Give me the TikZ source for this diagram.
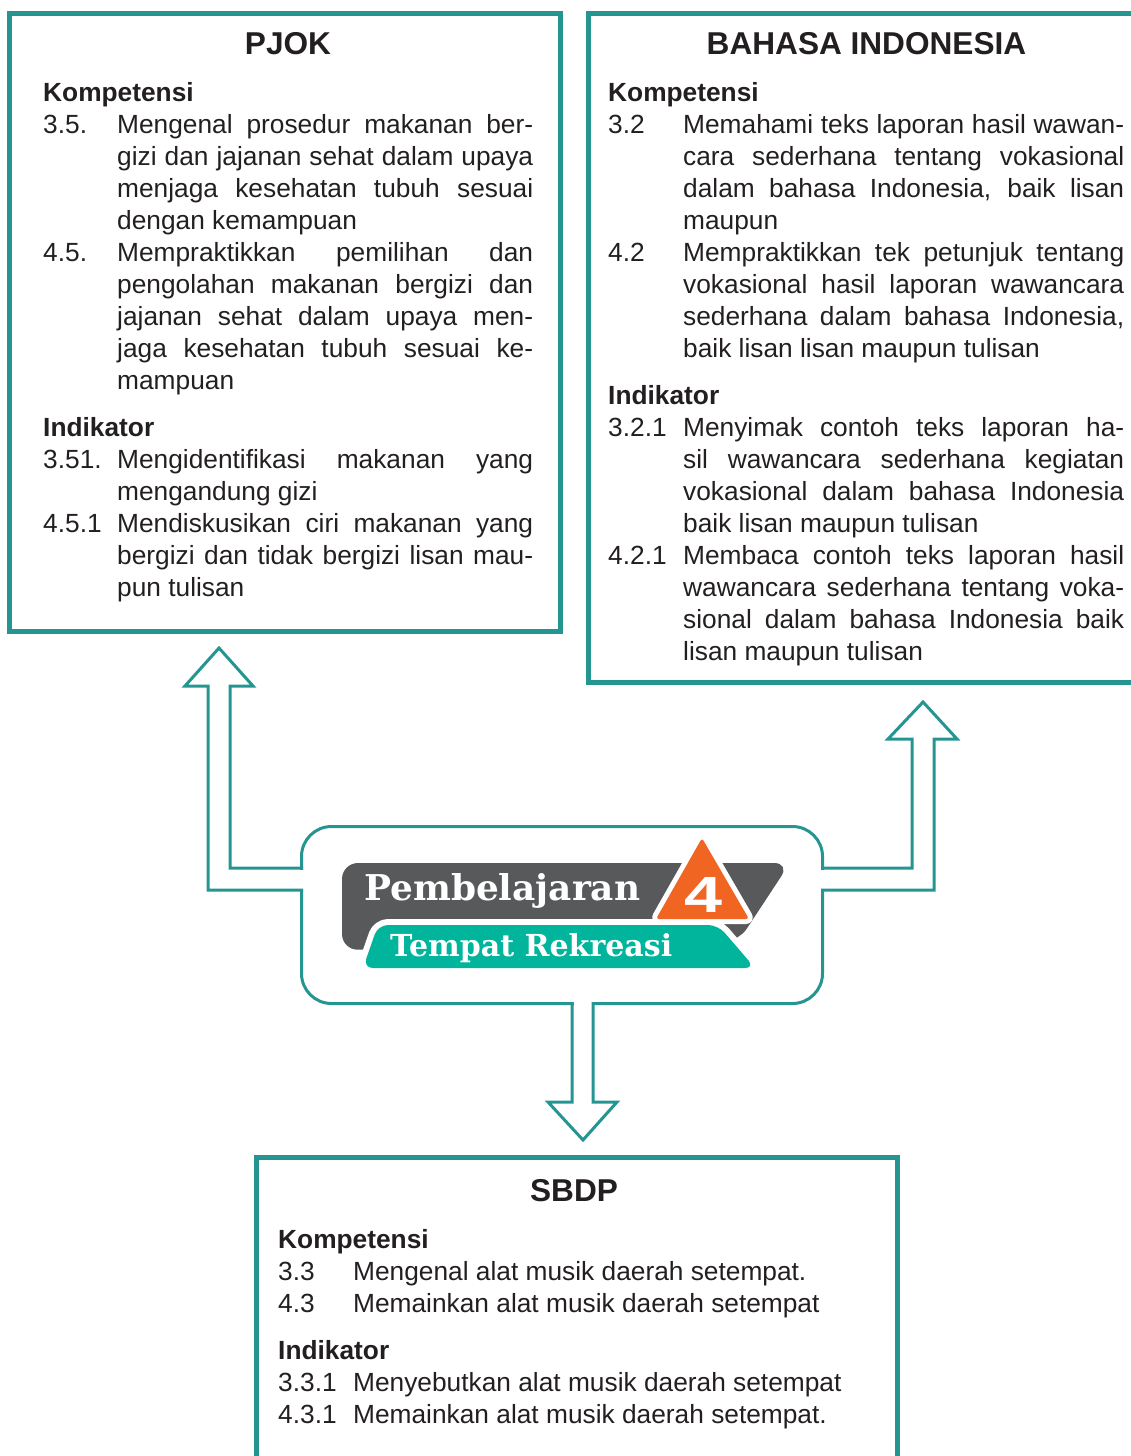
\documentclass[tikz,border=0pt]{standalone}
\usepackage{fontspec}
\usepackage{graphicx}
\setmainfont{Liberation Sans}
\newfontfamily\logofont{DejaVu Serif}
\setlength{\parindent}{0pt}
\setlength{\parskip}{0pt}
\newlength{\numwd}
\newcommand{\bodysize}{\fontsize{26.3}{32}\selectfont\hyphenpenalty=10000\tolerance=10000\hbadness=10000}
\newcommand{\titlesize}{\fontsize{31.6}{38}\selectfont\bfseries}
% one numbered entry with hanging text
\newcommand{\kd}[2]{\par\hangindent=\numwd\hangafter=1 \makebox[\numwd][l]{#1}#2\par}
\begin{document}
\begin{tikzpicture}[x=1pt, y=-1pt,
    subjframe/.style={draw=framecolor, line width=5},
    subjtitle/.style={anchor=base, inner sep=0pt, text=inkcolor, font=\titlesize},
    kdtext/.style={anchor=north west, inner sep=0pt, text=inkcolor, text width=#1, align=justify, font=\bodysize},
    hubbox/.style={draw=framecolor, line width=3, rounded corners=30, minimum width=521, minimum height=177, inner sep=0pt},
    hollowarrow/.style={draw=framecolor, line width=3, line join=miter},
    logotext/.style={anchor=base west, inner sep=0pt, text=white, font=\logofont\bfseries}]
    % Define the colors
    \definecolor{framecolor}{RGB}{36,149,144}
    \definecolor{bandcolor}{RGB}{0,181,156}
    \definecolor{badgecolor}{RGB}{241,101,34}
    \definecolor{platecolor}{RGB}{88,89,91}
    \definecolor{inkcolor}{RGB}{35,31,32}

    \useasboundingbox (0,0) rectangle (1130,1456);

    % Draw the PJOK box
    \draw[subjframe] (9.5,13.5) rectangle (560.5,631.5);
    \node[subjtitle] (pjoktitle) at (288,54.5) {PJOK};
    \node[kdtext=490pt] (pjoktext) at (43,77) {\setlength{\numwd}{74pt}%
        \rule{0pt}{24pt}\textbf{Kompetensi}\par
        \kd{3.5.}{Mengenal prosedur makanan ber-\linebreak gizi dan jajanan sehat dalam upaya\linebreak menjaga kesehatan tubuh sesuai\linebreak dengan kemampuan}
        \kd{4.5.}{Mempraktikkan pemilihan dan\linebreak pengolahan makanan bergizi dan\linebreak jajanan sehat dalam upaya men-\linebreak jaga kesehatan tubuh sesuai ke-\linebreak mampuan}
        \vspace{15pt}
        \textbf{Indikator}\par
        \kd{3.51.}{Mengidentifikasi makanan yang\linebreak mengandung gizi}
        \kd{4.5.1}{Mendiskusikan ciri makanan yang\linebreak bergizi dan tidak bergizi lisan mau-\linebreak pun tulisan}};

    % Draw the Bahasa Indonesia box
    \draw[subjframe] (588.5,13.5) rectangle (1140,682.5);
    \node[subjtitle] (bindotitle) at (866.5,54.5) {BAHASA INDONESIA};
    \node[kdtext=516pt] (bindotext) at (608,77) {\setlength{\numwd}{75pt}%
        \rule{0pt}{24pt}\textbf{Kompetensi}\par
        \kd{3.2}{Memahami teks laporan hasil wawan-\linebreak cara sederhana tentang vokasional\linebreak dalam bahasa Indonesia, baik lisan\linebreak maupun}
        \kd{4.2}{Mempraktikkan tek petunjuk tentang\linebreak vokasional hasil laporan wawancara\linebreak sederhana dalam bahasa Indonesia,\linebreak baik lisan lisan maupun tulisan}
        \vspace{15pt}
        \textbf{Indikator}\par
        \kd{3.2.1}{Menyimak contoh teks laporan ha-\linebreak sil wawancara sederhana kegiatan\linebreak vokasional dalam bahasa Indonesia\linebreak baik lisan maupun tulisan}
        \kd{4.2.1}{Membaca contoh teks laporan hasil\linebreak wawancara sederhana tentang voka-\linebreak sional dalam bahasa Indonesia baik\linebreak lisan maupun tulisan}};

    % Draw the SBDP box
    \draw[subjframe] (256.5,1157.5) rectangle (897.5,1470);
    \node[subjtitle] (sbdptitle) at (574,1201.5) {SBDP};
    \node[kdtext=600pt] (sbdptext) at (278,1224) {\setlength{\numwd}{75pt}%
        \rule{0pt}{24pt}\textbf{Kompetensi}\par
        \kd{3.3}{Mengenal alat musik daerah setempat.}
        \kd{4.3}{Memainkan alat musik daerah setempat}
        \vspace{15pt}
        \textbf{Indikator}\par
        \kd{3.3.1}{Menyebutkan alat musik daerah setempat}
        \kd{4.3.1}{Memainkan alat musik daerah setempat.}};

    % Draw the hub and open it where the arrows leave
    \node[hubbox] (hub) at (562,915) {};
    \fill[white] (299,869.5) rectangle (304.5,888.5);
    \fill[white] (819.5,869.5) rectangle (825,888.5);
    \fill[white] (573.5,1000.5) rectangle (591.5,1006);

    % Hollow arrows
    \draw[hollowarrow] (303,890) -- (208,890) -- (208,686) -- (185,686) -- (219,648)
        -- (253,686) -- (230,686) -- (230,868) -- (303,868);
    \draw[hollowarrow] (821,868) -- (912,868) -- (912,739) -- (888,739) -- (923,702)
        -- (957,739) -- (934,739) -- (934,890) -- (821,890);
    \draw[hollowarrow] (572,1002) -- (572,1102) -- (548,1102) -- (583,1140)
        -- (617,1102) -- (593,1102) -- (593,1002);

    % Draw the lesson badge
    \fill[platecolor, rounded corners=16] (342,950) -- (342,863) -- (790,863) -- (738,942) -- cycle;
    \fill[bandcolor, rounded corners=10, preaction={draw=white, line width=12, line join=round}]
        (363,968) -- (378,925) -- (718,925) -- (755,968) -- cycle;
    \fill[badgecolor, rounded corners=3, preaction={draw=white, line width=10, line join=round}]
        (702,838) -- (749,919) -- (656,919) -- cycle;
    \node[logotext] (lessonword) at (364,900) {\resizebox{276pt}{27pt}{Pembelajaran}};
    \node[logotext] (placeword) at (390,956) {\resizebox{282pt}{23pt}{Tempat Rekreasi}};
    \node[anchor=base, inner sep=0pt, text=white, font=\bfseries] (lessonno) at (703.5,912) {\resizebox{38pt}{35pt}{4}};
\end{tikzpicture}
\end{document}
